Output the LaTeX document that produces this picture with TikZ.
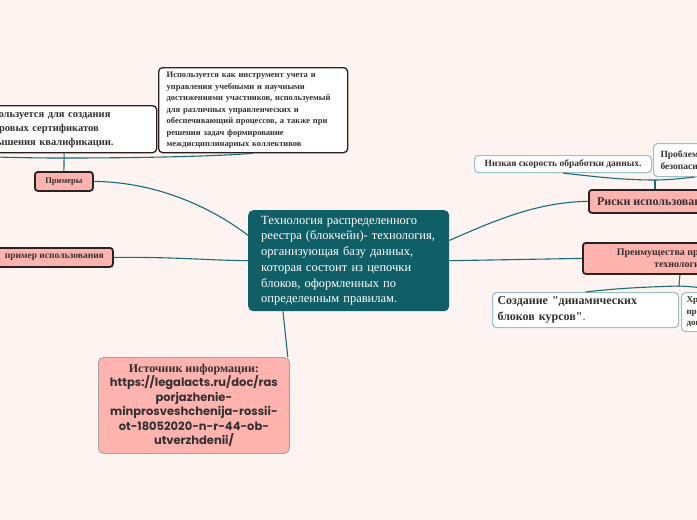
\documentclass[tikz,border=0pt]{standalone}
\usepackage{fontspec}
\setmainfont{Liberation Serif}
\newfontfamily\urlfont{Poppins}
\newfontfamily\quotefont{Liberation Serif}
\usetikzlibrary{calc}

\definecolor{bgcol}{HTML}{FDF3F1}
\definecolor{tealfill}{HTML}{105F66}
\definecolor{linkcol}{HTML}{1D6B73}
\definecolor{pinkfill}{HTML}{FFB3AE}
\definecolor{darkline}{HTML}{2A2222}
\definecolor{lightline}{HTML}{9DBFC2}
\definecolor{greyline}{HTML}{A3A3A3}
\definecolor{textdark}{HTML}{333030}

\newcommand\fsz[2]{\fontsize{#1}{#2}\selectfont}
\newcommand\urlline{\urlfont\fsz{11.5}{14.5}}
\newcommand\dq{{\quotefont"}}

\tikzset{
	mainbox/.style={anchor=north west, fill=tealfill, text=white, rounded corners=5pt, inner ysep=0pt, align=left},
	topicbox/.style={anchor=north west, fill=pinkfill, draw=darkline, line width=1.8pt, rounded corners=3pt, inner sep=0pt, text=textdark, align=center},
	notebox/.style={anchor=north west, fill=white, draw=darkline, line width=1.3pt, rounded corners=4pt, inner ysep=0pt, text=textdark, align=left},
	leafbox/.style={anchor=north west, fill=white, draw=lightline, line width=1.1pt, rounded corners=4pt, inner ysep=0pt, text=textdark, align=left},
	sourcebox/.style={anchor=north west, fill=pinkfill, draw=greyline, line width=0.8pt, rounded corners=5pt, inner sep=0pt, text=textdark, align=center},
	link/.style={draw=linkcol, line width=1.1pt},
}

\begin{document}
\begin{tikzpicture}[x=1pt,y=-1pt]
	\useasboundingbox[fill=bgcol] (0,0) rectangle (697,520);
	\clip (0,0) rectangle (697,520);

	\node[mainbox, minimum width=201, minimum height=101, inner xsep=13pt, text width=175pt, font=\fsz{12.5}{15.7}] (d1) at (248,210) {Технология распределенного\\реестра (блокчейн)- технология,\\организующая базу данных,\\которая состоит из цепочки\\блоков, оформленных по\\определенным правилам.};

	\node[topicbox, minimum width=58, minimum height=19, font=\bfseries\fsz{8.5}{10}] (d2) at (34,171) {Примеры};

	\node[notebox, minimum width=185, minimum height=47, inner xsep=8pt, text width=169pt, font=\bfseries\fsz{10.5}{14}] (d3) at (-29,105) {Используется для создания\\цифровых сертификатов\\повышения квалификации.};

	\node[notebox, minimum width=189, minimum height=85, inner xsep=8pt, text width=173pt, font=\bfseries\fsz{8.5}{11.5}] (d4) at (158,67) {Используется как инструмент учета и\\управления учебными и научными\\достижениями участников, используемый\\для различных управленческих и\\обеспечивающий процессов, а также при\\решении задач формирование\\междисциплинарных коллективов};

	\node[topicbox, minimum width=117, minimum height=19, font=\bfseries\fsz{9.5}{11}] (d5) at (-5,247) {пример использования};

	\node[sourcebox, minimum width=191, minimum height=96, font=\bfseries\fsz{12}{14.5}] (d6) at (98,357) {Источник информации:\\\urlline https://legalacts.ru/doc/ras\\\urlline porjazhenie-\\\urlline minprosveshchenija-rossii-\\\urlline ot-18052020-n-r-44-ob-\\\urlline utverzhdenii/};

	\node[topicbox, minimum width=134, minimum height=23, font=\bfseries\fsz{12}{14}] (d7) at (588,189) {Риски использования};

	\node[leafbox, minimum width=177, minimum height=17, inner xsep=0pt, align=center, font=\bfseries\fsz{9.5}{11}] (d8) at (474,155) {Низкая скорость обработки данных.};

	\node[leafbox, minimum width=82, minimum height=33, inner xsep=7pt, text width=68pt, font=\bfseries\fsz{9.5}{12.5}] (d9) at (653,143) {Проблемы\\безопасности};

	\node[topicbox, minimum width=194, minimum height=31, font=\bfseries\fsz{10}{12.5}] (d10) at (582,242) {Преимущества применения\\технологии};

	\node[leafbox, minimum width=186, minimum height=35, inner xsep=5pt, text width=176pt, font=\bfseries\fsz{12}{15.5}] (d11) at (492,292) {Создание \dq динамических\\блоков курсов\dq\mdseries.};

	\node[leafbox, minimum width=90, minimum height=39, inner xsep=5pt, text width=80pt, font=\bfseries\fsz{9}{11.5}] (d12) at (681,292) {Хранение\\прохождения\\документов};

	\coordinate (j1) at (63,158);
	\coordinate (c1) at (-40,156);
	\coordinate (j2) at (655,180);
	\coordinate (j3) at (679,286);

	\draw[link] (d2.north) -- (d3.south);
	\draw[link] (j1) .. controls (150,158) and (220,156) .. (d4.south);
	\draw[link] (j1) .. controls (20,158) and (0,157) .. (c1);
	\draw[link] (d2.east) .. controls (160,182) and (215,210) .. ($(d1.north west)!0.25!(d1.south west)$);
	\draw[link] (d5.east) .. controls (180,257) and (200,260) .. ($(d1.north west)!0.5!(d1.south west)$);
	\draw[link] ($(d1.south west)+(35,0)$) -- ($(d6.north east)+(-2,0)$);

	\draw[link] ($(d1.north east)!0.3!(d1.south east)$) .. controls (500,218) and (540,202) .. (d7.west);
	\draw[link] (d7.north -| j2) -- (j2);
	\draw[link] (j2) .. controls (620,180) and (590,176) .. (d8.south);
	\draw[link] (j2) .. controls (670,180) and (685,178) .. (d9.south);
	\draw[link] ($(d1.north east)!0.5!(d1.south east)$) -- (d10.west);
	\draw[link] (d10.south) -- (j3);
	\draw[link] (j3) .. controls (640,287) and (610,289) .. (d11.north);
	\draw[link] (j3) .. controls (700,287) and (712,289) .. (d12.north);
\end{tikzpicture}
\end{document}
